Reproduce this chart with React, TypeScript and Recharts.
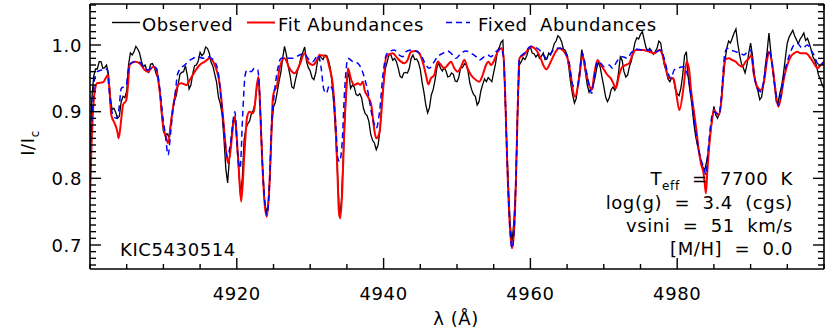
import { LineChart, Line, XAxis, YAxis } from "recharts";

// Observed spectrum, sampled every 0.25 Å starting at 4900 Å (one row = 5 Å)
const OBS_START = 4900;
const OBS_STEP = 0.25;
const observedFlux = [
  0.84, 0.92, 0.953, 0.964, 0.964, 0.975, 0.975, 0.965, 0.966, 0.97, 0.958, 0.925, 0.903, 0.905, 0.899, 0.89, 0.893, 0.915, 0.923, 0.921,
  0.931, 0.97, 0.988, 0.985, 0.99, 0.998, 0.994, 0.988, 0.976, 0.967, 0.97, 0.962, 0.959, 0.971, 0.972, 0.967, 0.957, 0.95, 0.933, 0.898,
  0.871, 0.865, 0.867, 0.862, 0.881, 0.903, 0.916, 0.924, 0.94, 0.956, 0.959, 0.96, 0.969, 0.955, 0.934, 0.94, 0.957, 0.969, 0.97, 0.976,
  0.989, 0.984, 0.987, 0.997, 0.995, 0.988, 0.974, 0.968, 0.956, 0.944, 0.922, 0.912, 0.896, 0.86, 0.815, 0.793, 0.83, 0.862, 0.886, 0.893,
  0.855, 0.815, 0.775, 0.8, 0.858, 0.875, 0.882, 0.886, 0.898, 0.902, 0.913, 0.94, 0.95, 0.89, 0.82, 0.77, 0.748, 0.76, 0.8, 0.875,
  0.907, 0.914, 0.929, 0.945, 0.959, 0.98, 0.998, 0.986, 0.968, 0.955, 0.937, 0.935, 0.948, 0.96, 0.969, 0.982, 0.989, 0.997, 0.975, 0.966,
  0.961, 0.951, 0.948, 0.958, 0.976, 0.985, 0.981, 0.978, 0.985, 0.984, 0.977, 0.965, 0.94, 0.905, 0.86, 0.8, 0.742, 0.765, 0.83, 0.9,
  0.948, 0.958, 0.935, 0.94, 0.937, 0.926, 0.924, 0.927, 0.921, 0.905, 0.897, 0.894, 0.885, 0.866, 0.857, 0.853, 0.843, 0.85, 0.872, 0.91,
  0.943, 0.965, 0.975, 0.986, 0.985, 0.977, 0.98, 0.975, 0.965, 0.953, 0.951, 0.958, 0.959, 0.958, 0.965, 0.98, 0.985, 0.978, 0.979, 0.974,
  0.963, 0.944, 0.929, 0.91, 0.898, 0.906, 0.925, 0.933, 0.947, 0.965, 0.974, 0.965, 0.961, 0.966, 0.961, 0.952, 0.953, 0.958, 0.956, 0.946,
  0.945, 0.952, 0.966, 0.966, 0.972, 0.97, 0.961, 0.943, 0.933, 0.926, 0.923, 0.91, 0.915, 0.931, 0.941, 0.949, 0.945, 0.951, 0.948, 0.945,
  0.959, 0.972, 0.991, 0.996, 1.004, 1.007, 0.94, 0.86, 0.79, 0.73, 0.705, 0.735, 0.79, 0.9, 0.97, 0.975, 0.981, 0.978, 0.984, 0.993,
  0.997, 0.988, 0.987, 0.982, 0.986, 0.98, 0.983, 0.988, 0.978, 0.979, 0.988, 0.985, 0.992, 1.002, 1.006, 1.014, 1.011, 1.005, 0.994, 0.992,
  0.985, 0.965, 0.942, 0.925, 0.913, 0.92, 0.943, 0.965, 0.993, 0.978, 0.959, 0.94, 0.929, 0.935, 0.937, 0.948, 0.963, 0.975, 0.967, 0.952,
  0.938, 0.922, 0.915, 0.921, 0.933, 0.937, 0.932, 0.94, 0.958, 0.982, 0.977, 0.96, 0.952, 0.955, 0.968, 0.976, 0.99, 1.004, 1.011, 1.009,
  1.016, 1.02, 1.008, 0.996, 0.991, 0.995, 0.991, 0.986, 0.99, 0.995, 1.006, 1.003, 0.985, 0.97, 0.961, 0.949, 0.945, 0.951, 0.948, 0.934,
  0.927, 0.924, 0.935, 0.955, 0.984, 0.99, 0.952, 0.93, 0.911, 0.884, 0.864, 0.85, 0.838, 0.826, 0.817, 0.812, 0.825, 0.84, 0.865, 0.888,
  0.908, 0.895, 0.89, 0.897, 0.913, 0.945, 0.975, 0.995, 1.006, 1.003, 1.01, 1.018, 1.024, 1.002, 0.985, 0.972, 0.966, 0.958, 0.97, 0.988,
  1.003, 0.985, 0.957, 0.94, 0.931, 0.918, 0.922, 0.94, 0.968, 0.99, 1.018, 0.99, 0.963, 0.94, 0.915, 0.914, 0.928, 0.94, 0.959, 0.982,
  1.003, 1.012, 1.017, 1.022, 1.014, 1.008, 1.002, 1.009, 1.013, 1.018, 1.007, 1.01, 1.002, 0.993, 0.982, 0.977, 0.968, 0.955, 0.949, 0.94,
  0.935,
];

// Synthetic spectra: [wavelength, I/Ic] knots
const fitAbundances: [number, number][] = [
  [4900.0, 0.77], [4900.18, 0.84], [4900.64, 0.93], [4901.0, 0.943], [4901.77, 0.944],
  [4902.45, 0.955], [4902.68, 0.93], [4902.9, 0.895], [4903.36, 0.8825], [4903.73, 0.87],
  [4903.9, 0.86], [4904.27, 0.89], [4904.5, 0.91], [4904.95, 0.9175], [4905.18, 0.94],
  [4905.4, 0.97], [4906.1, 0.975], [4906.77, 0.9725], [4907.45, 0.9625], [4907.9, 0.96],
  [4908.6, 0.9675], [4909.05, 0.9625], [4909.5, 0.93], [4909.95, 0.88], [4910.4, 0.86],
  [4910.64, 0.8525], [4911.1, 0.89], [4911.45, 0.915], [4912.0, 0.94], [4912.45, 0.9425],
  [4913.14, 0.94], [4913.6, 0.9475], [4914.27, 0.96], [4914.95, 0.97], [4915.64, 0.975],
  [4916.3, 0.98], [4917.0, 0.97], [4917.68, 0.94], [4918.14, 0.89], [4918.6, 0.835],
  [4918.82, 0.8225], [4919.18, 0.845], [4919.5, 0.88], [4919.73, 0.8925], [4920.18, 0.83],
  [4920.6, 0.765], [4921.05, 0.84], [4921.41, 0.8925], [4921.73, 0.9], [4922.18, 0.8975],
  [4922.41, 0.905], [4922.73, 0.94], [4922.96, 0.9525], [4923.18, 0.905], [4923.45, 0.83],
  [4923.77, 0.765], [4924.09, 0.7425], [4924.45, 0.79], [4924.68, 0.855], [4924.91, 0.92],
  [4925.14, 0.9325], [4925.45, 0.9375], [4925.82, 0.965], [4926.5, 0.98], [4927.18, 0.965],
  [4927.86, 0.9575], [4928.55, 0.97], [4929.23, 0.9875], [4929.68, 0.975], [4930.36, 0.97],
  [4930.82, 0.975], [4931.27, 0.985], [4932.18, 0.9825], [4932.64, 0.965], [4933.09, 0.94],
  [4933.45, 0.88], [4933.68, 0.82], [4933.91, 0.75], [4934.09, 0.74], [4934.36, 0.78],
  [4934.59, 0.855], [4934.91, 0.93], [4935.14, 0.965], [4935.59, 0.9475], [4936.05, 0.94],
  [4936.5, 0.9425], [4936.82, 0.94], [4937.18, 0.945], [4937.41, 0.9325], [4937.86, 0.9225],
  [4938.32, 0.91], [4938.77, 0.87], [4939.0, 0.86], [4939.45, 0.87], [4939.91, 0.93],
  [4940.36, 0.9825], [4941.23, 0.9875], [4941.9, 0.98], [4942.36, 0.975], [4942.82, 0.9725],
  [4943.27, 0.9775], [4943.73, 0.99], [4944.41, 0.991], [4944.86, 0.9875], [4945.32, 0.975],
  [4945.77, 0.955], [4946.09, 0.941], [4946.45, 0.95], [4946.9, 0.955], [4947.36, 0.975],
  [4947.82, 0.97], [4948.27, 0.965], [4948.73, 0.97], [4949.18, 0.975], [4949.64, 0.965],
  [4950.09, 0.96], [4950.55, 0.9675], [4951.0, 0.9775], [4951.45, 0.965], [4951.91, 0.955],
  [4952.59, 0.9475], [4953.05, 0.945], [4953.5, 0.955], [4953.95, 0.97], [4954.27, 0.975],
  [4954.64, 0.97], [4955.09, 0.9775], [4955.55, 0.99], [4956.09, 0.995], [4956.36, 0.98],
  [4956.55, 0.93], [4956.82, 0.83], [4957.14, 0.74], [4957.5, 0.695], [4957.82, 0.73],
  [4958.05, 0.805], [4958.27, 0.905], [4958.5, 0.98], [4959.18, 0.986], [4960.09, 0.9975],
  [4960.95, 0.99], [4961.4, 0.98], [4961.86, 0.9675], [4962.18, 0.9635], [4962.77, 0.975],
  [4963.45, 0.99], [4963.9, 0.995], [4964.59, 0.99], [4965.05, 0.98], [4965.5, 0.955],
  [4965.82, 0.93], [4966.09, 0.9225], [4966.64, 0.95], [4967.09, 0.985], [4967.55, 0.96],
  [4968.0, 0.94], [4968.36, 0.9325], [4968.68, 0.955], [4969.14, 0.9775], [4969.59, 0.97],
  [4970.05, 0.9625], [4970.5, 0.955], [4970.95, 0.95], [4971.41, 0.94], [4971.64, 0.935],
  [4972.09, 0.955], [4972.55, 0.9675], [4973.0, 0.97], [4973.45, 0.9725], [4973.9, 0.985],
  [4974.36, 0.9925], [4975.27, 0.9925], [4976.18, 0.99], [4976.86, 0.9875], [4977.55, 0.9925],
  [4978.0, 0.985], [4978.45, 0.965], [4978.9, 0.95], [4979.5, 0.95], [4979.9, 0.925],
  [4980.3, 0.9025], [4980.9, 0.94], [4981.28, 0.975], [4981.6, 0.965], [4981.91, 0.93],
  [4982.28, 0.9], [4982.64, 0.87], [4982.96, 0.84], [4983.28, 0.82], [4983.55, 0.81],
  [4983.73, 0.795], [4983.91, 0.7775], [4984.1, 0.81], [4984.46, 0.86], [4984.78, 0.89],
  [4985.0, 0.9025], [4985.37, 0.8975], [4985.69, 0.895], [4986.0, 0.915], [4986.28, 0.955],
  [4986.5, 0.9775], [4987.05, 0.98], [4987.5, 0.9775], [4987.96, 0.975], [4988.41, 0.97],
  [4988.87, 0.9675], [4989.32, 0.975], [4989.78, 0.98], [4990.1, 0.985], [4990.46, 0.955],
  [4990.91, 0.9375], [4991.37, 0.9325], [4991.82, 0.945], [4992.28, 0.98], [4992.5, 0.99],
  [4992.96, 0.97], [4993.41, 0.93], [4993.78, 0.9075], [4994.1, 0.92], [4994.55, 0.95],
  [4995.0, 0.97], [4995.46, 0.9825], [4995.91, 0.9875], [4996.37, 0.99], [4996.82, 0.9875],
  [4997.5, 0.9875], [4998.19, 0.98], [4998.64, 0.9725], [4999.1, 0.965], [4999.55, 0.97],
  [5000.0, 0.975],
];

const fixedAbundances: [number, number][] = [
  [4900.0, 0.84], [4900.27, 0.89], [4900.64, 0.95], [4901.0, 0.96], [4901.55, 0.9625],
  [4902.0, 0.965], [4902.36, 0.9625], [4902.55, 0.94], [4902.82, 0.91], [4903.14, 0.895],
  [4903.6, 0.89], [4903.9, 0.9], [4904.27, 0.935], [4904.64, 0.9375], [4904.95, 0.94],
  [4905.18, 0.96], [4905.55, 0.9725], [4906.1, 0.975], [4906.77, 0.974], [4907.45, 0.965],
  [4907.9, 0.9625], [4908.6, 0.9675], [4909.05, 0.965], [4909.5, 0.935], [4909.95, 0.89],
  [4910.27, 0.865], [4910.64, 0.835], [4911.0, 0.87], [4911.32, 0.905], [4911.64, 0.93],
  [4911.9, 0.955], [4912.36, 0.965], [4912.9, 0.97], [4913.36, 0.975], [4914.05, 0.98],
  [4914.73, 0.9825], [4915.4, 0.98], [4916.1, 0.9825], [4916.55, 0.98], [4917.0, 0.975],
  [4917.45, 0.96], [4917.9, 0.915], [4918.36, 0.86], [4918.7, 0.832], [4919.18, 0.855],
  [4919.73, 0.9], [4920.18, 0.83], [4920.45, 0.815], [4920.82, 0.9], [4921.14, 0.955],
  [4921.41, 0.9625], [4921.95, 0.96], [4922.41, 0.965], [4922.86, 0.9625], [4923.09, 0.93],
  [4923.45, 0.83], [4923.77, 0.77], [4924.09, 0.745], [4924.45, 0.79], [4924.68, 0.865],
  [4925.14, 0.93], [4925.59, 0.965], [4926.05, 0.98], [4926.73, 0.98], [4927.64, 0.98],
  [4928.55, 0.985], [4929.23, 0.9875], [4929.68, 0.98], [4930.36, 0.975], [4931.05, 0.985],
  [4931.5, 0.965], [4931.82, 0.935], [4932.18, 0.9275], [4932.64, 0.94], [4933.09, 0.93],
  [4933.45, 0.885], [4933.77, 0.83], [4934.0, 0.825], [4934.36, 0.855], [4934.68, 0.93],
  [4935.14, 0.98], [4935.82, 0.975], [4936.5, 0.9725], [4936.95, 0.965], [4937.41, 0.95],
  [4937.86, 0.93], [4938.32, 0.9], [4938.77, 0.88], [4939.0, 0.875], [4939.45, 0.9],
  [4939.91, 0.955], [4940.36, 0.985], [4940.77, 0.99], [4941.45, 0.9925], [4942.14, 0.985],
  [4942.59, 0.9825], [4943.05, 0.99], [4943.73, 0.9925], [4944.41, 0.991], [4945.09, 0.985],
  [4945.77, 0.97], [4946.23, 0.965], [4946.9, 0.975], [4947.36, 0.9825], [4948.05, 0.9875],
  [4948.73, 0.991], [4949.41, 0.985], [4949.86, 0.98], [4950.55, 0.9875], [4951.23, 0.991],
  [4951.91, 0.9875], [4952.59, 0.9825], [4953.05, 0.9775], [4953.73, 0.9825], [4954.18, 0.985],
  [4954.64, 0.9825], [4955.32, 0.99], [4956.0, 0.995], [4956.36, 0.98], [4956.55, 0.93],
  [4956.82, 0.83], [4957.14, 0.74], [4957.5, 0.695], [4957.82, 0.73], [4958.05, 0.805],
  [4958.27, 0.905], [4958.5, 0.98], [4959.18, 0.988], [4960.09, 0.998], [4960.95, 0.995],
  [4961.64, 0.9875], [4962.18, 0.98], [4962.77, 0.9875], [4963.45, 0.995], [4964.14, 0.995],
  [4964.82, 0.9875], [4965.27, 0.975], [4965.64, 0.945], [4965.95, 0.9375], [4966.41, 0.9375],
  [4966.64, 0.95], [4967.09, 0.9875], [4967.55, 0.965], [4968.0, 0.94], [4968.36, 0.9275],
  [4968.68, 0.95], [4969.14, 0.975], [4969.59, 0.9725], [4970.05, 0.9675], [4970.73, 0.97],
  [4971.18, 0.965], [4971.64, 0.9725], [4972.09, 0.98], [4972.55, 0.9825], [4973.23, 0.98],
  [4973.68, 0.9875], [4974.36, 0.994], [4975.27, 0.9925], [4976.18, 0.9925], [4977.09, 0.99],
  [4977.77, 0.9925], [4978.23, 0.98], [4978.68, 0.96], [4979.14, 0.95], [4979.59, 0.9625],
  [4980.05, 0.965], [4980.9, 0.9675], [4981.82, 0.93], [4982.28, 0.89], [4982.73, 0.855],
  [4983.19, 0.83], [4983.64, 0.815], [4983.91, 0.805], [4984.19, 0.84], [4984.55, 0.88],
  [4984.91, 0.9], [4985.37, 0.8975], [4985.69, 0.895], [4986.14, 0.94], [4986.46, 0.985],
  [4986.82, 0.995], [4987.28, 0.9925], [4987.96, 0.99], [4988.64, 0.9875], [4989.1, 0.985],
  [4989.55, 0.99], [4990.0, 0.9925], [4990.46, 0.955], [4990.91, 0.935], [4991.37, 0.93],
  [4991.82, 0.9475], [4992.28, 0.985], [4992.5, 0.9925], [4992.96, 0.97], [4993.41, 0.93],
  [4993.78, 0.91], [4994.1, 0.9225], [4994.55, 0.955], [4995.0, 0.975], [4995.46, 0.99],
  [4995.91, 1.0], [4996.37, 1.0025], [4997.05, 0.995], [4997.73, 1.0], [4998.19, 0.9925],
  [4998.64, 0.985], [4999.1, 0.9725], [4999.55, 0.97], [5000.0, 0.975],
];

const xTicks = [
  4900, 4905, 4910, 4915, 4920, 4925, 4930, 4935, 4940, 4945, 4950,
  4955, 4960, 4965, 4970, 4975, 4980, 4985, 4990, 4995, 5000,
];
const xLabels = [4920, 4940, 4960, 4980];
const yTicks = [
  0.67, 0.68, 0.69, 0.7, 0.71, 0.72, 0.73, 0.74, 0.75, 0.76, 0.77, 0.78, 0.79,
  0.8, 0.81, 0.82, 0.83, 0.84, 0.85, 0.86, 0.87, 0.88, 0.89, 0.9, 0.91, 0.92,
  0.93, 0.94, 0.95, 0.96, 0.97, 0.98, 0.99, 1.0, 1.01, 1.02, 1.03, 1.04, 1.05, 1.06,
];
const yLabels = [0.7, 0.8, 0.9, 1.0];

const paramLines = ["log(g) = 3.4 (cgs)", "vsini = 51 km/s", "[M/H] = 0.0"];

const FONT = "'DejaVu Sans', Verdana, sans-serif";
const TXT = { fontFamily: FONT, fontSize: 18, fill: "#000", letterSpacing: 0.6 };

const observedData = observedFlux.map((f, i) => ({ w: OBS_START + i * OBS_STEP, f }));
const fitData = fitAbundances.map(([w, f]) => ({ w, f }));
const fixedData = fixedAbundances.map(([w, f]) => ({ w, f }));

const isMajorY = (v: number) => yLabels.some((l) => Math.abs(l - v) < 1e-6);

function BottomTick(props: any) {
  const { x, y, payload } = props;
  const major = xLabels.includes(payload.value);
  return (
    <g>
      <line x1={x} y1={y} x2={x} y2={y - (major ? 11 : 5)} stroke="#000" strokeWidth={1.4} />
      {major && (
        <text x={x} y={y + 31} textAnchor="middle" {...TXT}>
          {payload.value}
        </text>
      )}
    </g>
  );
}

function TopTick(props: any) {
  const { x, y, payload } = props;
  const major = xLabels.includes(payload.value);
  return <line x1={x} y1={y} x2={x} y2={y + (major ? 11 : 5)} stroke="#000" strokeWidth={1.4} />;
}

function LeftTick(props: any) {
  const { x, y, payload } = props;
  const major = isMajorY(payload.value);
  return (
    <g>
      <line x1={x} y1={y} x2={x + (major ? 11 : 6)} y2={y} stroke="#000" strokeWidth={1.4} />
      {major && (
        <text x={x - 8} y={y + 6.5} textAnchor="end" {...TXT}>
          {payload.value.toFixed(1)}
        </text>
      )}
    </g>
  );
}

function RightTick(props: any) {
  const { x, y, payload } = props;
  const major = isMajorY(payload.value);
  return <line x1={x} y1={y} x2={x - (major ? 11 : 6)} y2={y} stroke="#000" strokeWidth={1.4} />;
}

export default function App() {
  return (
    <div style={{ position: "absolute", left: 0, top: 0, width: 830, height: 332, background: "#fff" }}>
      <LineChart width={830} height={332} margin={{ top: 2, right: 1, bottom: 33, left: 50 }}>
        <XAxis
          type="number"
          dataKey="w"
          domain={[4900, 5000]}
          allowDataOverflow
          ticks={xTicks}
          interval={0}
          height={30}
          tickSize={0}
          tickMargin={0}
          tickLine={false}
          axisLine={{ stroke: "#000", strokeWidth: 1.6 }}
          tick={BottomTick}
        />
        <XAxis
          xAxisId="top"
          orientation="top"
          type="number"
          dataKey="w"
          domain={[4900, 5000]}
          allowDataOverflow
          ticks={xTicks}
          interval={0}
          height={2}
          tickSize={0}
          tickMargin={0}
          tickLine={false}
          axisLine={{ stroke: "#000", strokeWidth: 1.6 }}
          tick={TopTick}
        />
        <YAxis
          type="number"
          domain={[0.664, 1.0615]}
          allowDataOverflow
          ticks={yTicks}
          interval={0}
          width={40}
          tickSize={0}
          tickMargin={0}
          tickLine={false}
          axisLine={{ stroke: "#000", strokeWidth: 1.6 }}
          tick={LeftTick}
        />
        <YAxis
          yAxisId="right"
          orientation="right"
          type="number"
          domain={[0.664, 1.0615]}
          allowDataOverflow
          ticks={yTicks}
          interval={0}
          width={5}
          tickSize={0}
          tickMargin={0}
          tickLine={false}
          axisLine={{ stroke: "#000", strokeWidth: 1.6 }}
          tick={RightTick}
        />
        <Line data={observedData} dataKey="f" type="linear" stroke="#000" strokeWidth={1.3} dot={false} isAnimationActive={false} />
        <Line data={fitData} dataKey="f" type="monotone" stroke="#ff0000" strokeWidth={2} dot={false} isAnimationActive={false} />
        <Line data={fixedData} dataKey="f" type="monotone" stroke="#0000ff" strokeWidth={1.5} strokeDasharray="6 4" dot={false} isAnimationActive={false} />
      </LineChart>

      {/* legend, labels and annotations */}
      <svg width={830} height={332} style={{ position: "absolute", left: 0, top: 0, pointerEvents: "none" }}>
        <line x1={112} y1={22.5} x2={140} y2={22.5} stroke="#000" strokeWidth={1.4} />
        <text x={142} y={30.5} {...TXT}>Observed</text>
        <line x1={247} y1={22.5} x2={275} y2={22.5} stroke="#ff0000" strokeWidth={2} />
        <text x={278} y={30.5} {...TXT}>Fit Abundances</text>
        <line x1={446} y1={22.5} x2={470} y2={22.5} stroke="#0000ff" strokeWidth={1.5} strokeDasharray="6 4" />
        <text x={478} y={30.5} {...TXT} wordSpacing={6}>Fixed Abundances</text>

        <text x={120} y={256} {...TXT}>KIC5430514</text>

        <text x={793} y={185} textAnchor="end" {...TXT} wordSpacing={6}>
          T<tspan fontSize={12} dy={5}>eff</tspan>
          <tspan dy={-5}> = 7700 K</tspan>
        </text>
        {paramLines.map((s, i) => (
          <text key={s} x={793} y={208.5 + i * 23.3} textAnchor="end" {...TXT} wordSpacing={6}>
            {s}
          </text>
        ))}

        <text transform="translate(34,143) rotate(-90)" textAnchor="middle" {...TXT}>
          I/I<tspan fontSize={12} dy={5}>c</tspan>
        </text>
        <text x={456} y={325} textAnchor="middle" {...TXT}>λ (Å)</text>
      </svg>
    </div>
  );
}
